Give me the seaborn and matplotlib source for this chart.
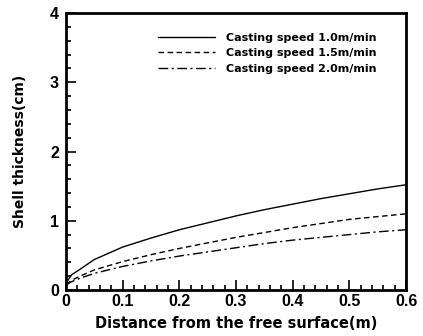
import matplotlib
matplotlib.use("Agg")
import matplotlib.pyplot as plt
import seaborn as sns
import pandas as pd
from matplotlib.ticker import MultipleLocator

distance = [0.0, 0.01, 0.025, 0.05, 0.1, 0.15, 0.2, 0.25, 0.3, 0.35, 0.4, 0.45, 0.5, 0.55, 0.6]
speed_10 = [0.1, 0.22, 0.3, 0.44, 0.62, 0.75, 0.87, 0.97, 1.07, 1.16, 1.24, 1.32, 1.39, 1.46, 1.52]
speed_15 = [0.08, 0.14, 0.2, 0.29, 0.41, 0.51, 0.6, 0.68, 0.76, 0.83, 0.9, 0.96, 1.02, 1.06, 1.1]
speed_20 = [0.07, 0.12, 0.17, 0.24, 0.34, 0.42, 0.49, 0.55, 0.61, 0.67, 0.72, 0.76, 0.8, 0.84, 0.87]
labels = ["Casting speed 1.0m/min", "Casting speed 1.5m/min", "Casting speed 2.0m/min"]
x_ticks = [0, 0.1, 0.2, 0.3, 0.4, 0.5, 0.6]
x_ticklabels = ["0", "0.1", "0.2", "0.3", "0.4", "0.5", "0.6"]
y_ticks = [0, 1, 2, 3, 4]

rows = []
for lab, vals in zip(labels, [speed_10, speed_15, speed_20]):
    for xv, yv in zip(distance, vals):
        rows.append({"x": xv, "y": yv, "series": lab})
df = pd.DataFrame(rows)

sns.set_style("ticks")
plt.rcParams["font.family"] = ["Liberation Sans", "DejaVu Sans"]
plt.rcParams["font.weight"] = "bold"
plt.rcParams["text.color"] = "black"
plt.rcParams["axes.labelcolor"] = "black"
plt.rcParams["xtick.color"] = "black"
plt.rcParams["ytick.color"] = "black"
plt.rcParams["axes.edgecolor"] = "black"

fig = plt.figure(figsize=(4.23, 3.36), dpi=100)
ax = fig.add_axes([0.156, 0.137, 0.804, 0.824])

sns.lineplot(data=df, x="x", y="y", style="series", color="black",
             dashes=["", (4, 2.5), (7, 2.5, 1.5, 2.5)], linewidth=1.0, ax=ax)

ax.set_xlim(0, 0.6)
ax.set_ylim(0, 4)
ax.set_xticks(x_ticks)
ax.set_xticklabels(x_ticklabels)
ax.set_yticks(y_ticks)
ax.xaxis.set_minor_locator(MultipleLocator(0.02))
ax.yaxis.set_minor_locator(MultipleLocator(0.2))
ax.tick_params(which="both", direction="in", top=False, right=False, width=1.2,
               color="black", labelcolor="black")
ax.tick_params(which="major", length=7, labelsize=11.5, pad=3)
ax.tick_params(axis="y", which="major", pad=5)
ax.tick_params(which="minor", length=3.5)
for lbl in ax.get_xticklabels() + ax.get_yticklabels():
    lbl.set_fontweight("bold")
for s in ax.spines.values():
    s.set_linewidth(2)
    s.set_visible(True)
    s.set_color("black")

ax.set_xlabel("Distance from the free surface(m)", fontsize=10.5, fontweight="bold",
              family=["DejaVu Sans"], labelpad=5, color="black")
ax.set_ylabel("Shell thickness(cm)", fontsize=10, fontweight="bold",
              family=["DejaVu Sans"], color="black")
ax.yaxis.set_label_coords(-0.115, 0.5)

leg = ax.legend(loc="upper left", bbox_to_anchor=(0.24, 0.965), frameon=False,
                handlelength=5.2, handletextpad=1.0, labelspacing=0.5,
                prop={"weight": "bold", "size": 8, "family": "DejaVu Sans"})
for t in leg.get_texts():
    t.set_color("black")

fig.savefig("out.png", dpi=100)
